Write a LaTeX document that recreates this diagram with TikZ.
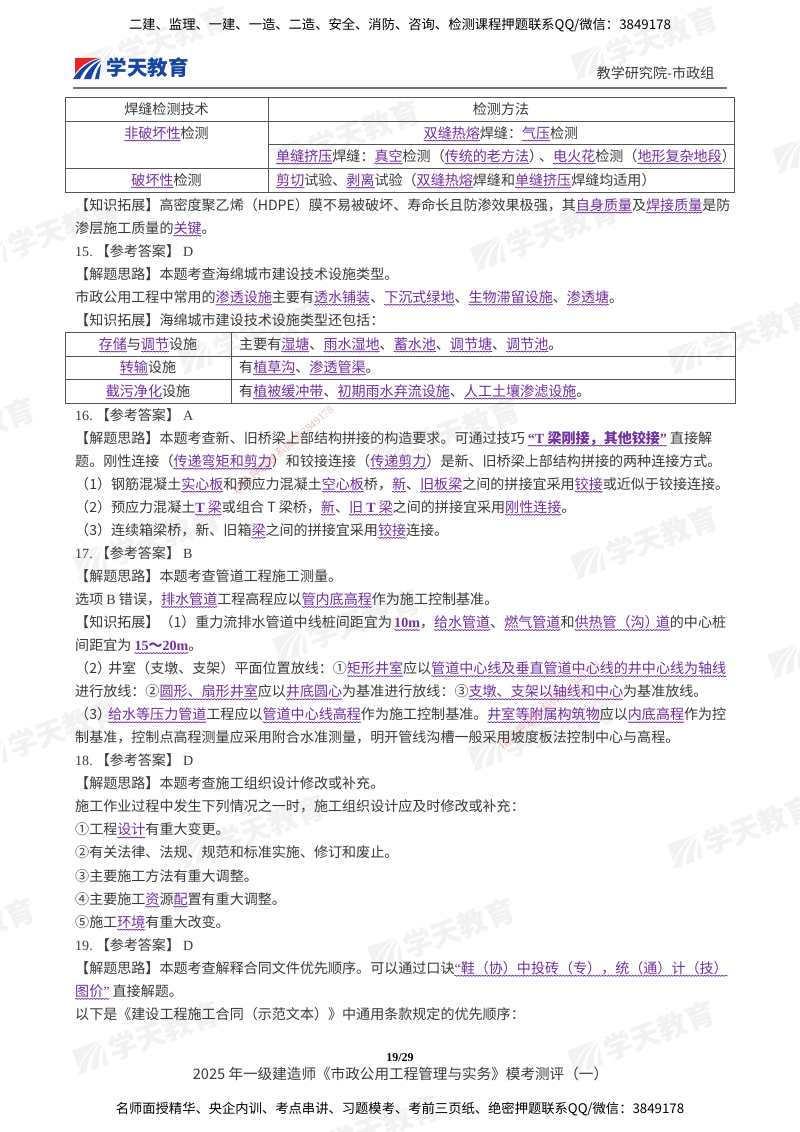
\documentclass[tikz,border=0pt]{standalone}
\usepackage{fontspec}
\usetikzlibrary{positioning,decorations.pathmorphing}
\setmainfont{Noto Sans CJK SC}
\newfontfamily\latfont{Liberation Serif}
\definecolor{bodyink}{HTML}{3A3A3A}
\definecolor{linkpurple}{HTML}{7030A0}
\definecolor{logoblue}{HTML}{17469E}
\definecolor{logored}{HTML}{E8262A}
\definecolor{markgray}{HTML}{F2F2F2}
\definecolor{tableline}{HTML}{555555}
\definecolor{stamppink}{HTML}{F3BFC0}
\newsavebox{\hlbox}
\newlength{\hlwd}
\newcommand{\hl}[1]{\sbox{\hlbox}{\textcolor{linkpurple}{#1}}\setlength{\hlwd}{\wd\hlbox}\rlap{\usebox{\hlbox}}\tikz[baseline=0pt]{\path[use as bounding box] (0pt,0pt) rectangle (\hlwd,0pt); \draw[linkpurple, line width=0.75pt, decorate, decoration={snake, amplitude=0.45pt, segment length=3pt}] (0pt,-2.6pt) -- (\hlwd,-2.6pt);}}
\newcommand{\lat}[1]{{\latfont #1}}
\newcommand{\anshead}[2]{\lat{#1}\hspace{3pt}【参考答案】\hspace{3pt}\lat{#2}}
\newcommand{\bodyfont}{\fontsize{14.05}{16}\selectfont}
\newcommand{\swoosh}[2]{
\fill[#1] (0,0) -- (24,0) .. controls (12,3) and (5,9) .. (0,16) -- cycle;
\fill[#2] (-2,21) .. controls (4,11) and (14,3) .. (26,0.5) .. controls (15,6) and (8,13) .. (5,21) -- cycle;
\fill[#2] (9,21) .. controls (12,13) and (18,6) .. (26,2.5) .. controls (21,8) and (18,14) .. (16,21) -- cycle;
\fill[#2] (20,21) .. controls (21,15) and (23,10) .. (26,6) -- (24,21) -- cycle;
}
\tikzset{
bodyline/.style={anchor=west, inner sep=0pt, text height=11pt, text depth=3pt, font=\bodyfont, text=bodyink},
nextline/.style={bodyline, below=23.05pt of #1.west, anchor=west},
tablecell/.style={inner sep=0pt, text height=11pt, text depth=3pt, font=\bodyfont, text=bodyink},
tablerule/.style={draw=tableline, line width=0.9pt},
headline/.style={inner sep=0pt, font=\fontsize{13.3}{15}\selectfont, text=black},
wmtext/.style={inner sep=0pt, transform shape, font=\fontsize{29}{30}\selectfont\bfseries, text=markgray},
stamp/.style={inner sep=0pt, font=\fontsize{11.2}{12}\selectfont, text=stamppink, rotate=41},
}

\begin{document}
\begin{tikzpicture}[x=1pt, y=-1pt]
\useasboundingbox (0,0) rectangle (800,1132);
\fill[white] (0,0) rectangle (800,1132);

\foreach \wx/\wy [count=\wi] in {160/41, 648/41, 350/135, 850/135, 50/233, 548/233, 255/336, 745/336, -35/433, 450/433, 150/541, 648/541, 350/624, 845/640, 50/733, 545/733, 255/830, 745/830, -35/933, 445/933, 150/1036, 645/1036, 370/1130}
{
\begin{scope}[shift={(\wx,\wy)}, rotate=20]
\begin{scope}[shift={(-78,-13)}, scale=1.2]
\swoosh{markgray}{markgray}
\end{scope}
\node[wmtext] (wm\wi) at (15,0) {学天教育};
\end{scope}
}
\node[stamp] (stampa) at (283,450) {精品押题联系微信\lat{3849178}};
\node[stamp] (stampb) at (549,705) {精品押题联系微信\lat{3849178}};

\node[headline] (top) at (400,25) {二建、监理、一建、一造、二造、安全、消防、咨询、检测课程押题联系QQ/微信：3849178};
\begin{scope}[shift={(75,58)}]
\swoosh{logored}{logoblue}
\end{scope}
\node[inner sep=0pt, font=\fontsize{20.5}{22}\selectfont\bfseries, text=logoblue] (brand) at (147.5,68) {学天教育};
\node[inner sep=0pt, font=\fontsize{14.1}{15}\selectfont, text=bodyink] (group) at (655.5,73) {教学研究院-市政组};
\coordinate (rulea) at (73,88);
\coordinate (ruleb) at (727,88);
\draw[draw=black!55, line width=1.2pt] (rulea) -- (ruleb);

\draw[tablerule] (65,97) rectangle (734,192);
\draw[tablerule] (268,97) -- (268,192);
\draw[tablerule] (65,121) -- (734,121);
\draw[tablerule] (268,144) -- (734,144);
\draw[tablerule] (65,168) -- (734,168);
\node[tablecell] (ha) at (166.5,110) {焊缝检测技术};
\node[tablecell] (hb) at (501,110) {检测方法};
\node[tablecell] (ra) at (166.5,134) {\hl{非破坏性}检测};
\node[tablecell] (rb) at (501,134) {\hl{双缝热熔}焊缝：\hl{气压}检测};
\node[tablecell, anchor=west] (rc) at (276,157) {\hl{单缝挤压}焊缝：\hl{真空}检测（\hl{传统的老方法}）\hspace{-4pt}、\hl{电火花}检测（\hl{地形复杂地段}）};
\node[tablecell] (rd) at (166.5,181) {\hl{破坏性}检测};
\node[tablecell, anchor=west] (re) at (276,181) {\hl{剪切}试验、\hl{剥离}试验（\hl{双缝热熔}焊缝和\hl{单缝挤压}焊缝均适用）};

\node[bodyline] (la) at (75,206) {【知识拓展】高密度聚乙烯（HDPE）膜不易被破坏、寿命长且防渗效果极强，其\hl{自身质量}及\hl{焊接质量}是防};
\node[nextline=la] (lb) {渗层施工质量的\hl{关键}。};
\node[nextline=lb] (lc) {\anshead{15.}{D}};
\node[nextline=lc] (ld) {【解题思路】本题考查海绵城市建设技术设施类型。};
\node[nextline=ld] (le) {市政公用工程中常用的\hl{渗透设施}主要有\hl{透水铺装}、\hl{下沉式绿地}、\hl{生物滞留设施}、\hl{渗透塘}。};
\node[nextline=le] (lf) {【知识拓展】海绵城市建设技术设施类型还包括：};

\draw[tablerule] (65,332) rectangle (735,403);
\draw[tablerule] (231,332) -- (231,403);
\draw[tablerule] (65,356) -- (735,356);
\draw[tablerule] (65,379) -- (735,379);
\node[tablecell] (sa) at (148,345) {\hl{存储}与\hl{调节}设施};
\node[tablecell, anchor=west] (sb) at (239,345) {主要有\hl{湿塘}、\hl{雨水湿地}、\hl{蓄水池}、\hl{调节塘}、\hl{调节池}。};
\node[tablecell] (sc) at (148,368) {\hl{转输}设施};
\node[tablecell, anchor=west] (sd) at (239,368) {有\hl{植草沟}、\hl{渗透管渠}。};
\node[tablecell] (se) at (148,392) {\hl{截污净化}设施};
\node[tablecell, anchor=west] (sf) at (239,392) {有\hl{植被缓冲带}、\hl{初期雨水弃流设施}、\hl{人工土壤渗滤设施}。};

\node[bodyline] (ma) at (75,416) {\anshead{16.}{A}};
\node[nextline=ma] (mb) {【解题思路】本题考查新、旧桥梁上部结构拼接的构造要求。可通过技巧 \textbf{\hl{\lat{“T} 梁刚接，其他铰接\lat{”}}} 直接解};
\node[nextline=mb] (mc) {题。刚性连接（\hl{传递弯矩和剪力}）和铰接连接（\hl{传递剪力}）是新、旧桥梁上部结构拼接的两种连接方式。};
\node[nextline=mc] (md) {（1）钢筋混凝土\hl{实心板}和预应力混凝土\hl{空心板}桥，\hl{新}、\hl{旧板梁}之间的拼接宜采用\hl{铰接}或近似于铰接连接。};
\node[nextline=md] (me) {（2）预应力混凝土\hl{\textbf{\lat{T}} 梁}或组合 T 梁桥，\hl{新}、\hl{旧 \textbf{\lat{T}} 梁}之间的拼接宜采用\hl{刚性连接}。};
\node[nextline=me] (mf) {（3）连续箱梁桥，新、旧箱\hl{梁}之间的拼接宜采用\hl{铰接}连接。};
\node[nextline=mf] (mg) {\anshead{17.}{B}};
\node[nextline=mg] (mh) {【解题思路】本题考查管道工程施工测量。};
\node[nextline=mh] (mi) {选项 \lat{B} 错误，\hl{排水管道}工程高程应以\hl{管内底高程}作为施工控制基准。};
\node[nextline=mi] (mj) {【知识拓展】（1）重力流排水管道中线桩间距宜为\hspace{-1pt} \textbf{\hl{\lat{10m}}}，\hl{给水管道}、\hl{燃气管道}和\hl{供热管（沟）\hspace{-3pt}道}的中心桩};
\node[nextline=mj] (mk) {间距宜为 \textbf{\hl{\lat{15}～\lat{20m}}}。};
\node[nextline=mk] (ml) {（2）\hspace{-3pt}井室（支墩、支架）平面位置放线：①\hl{矩形井室}应以\hl{管道中心线及垂直管道中心线的井中心线为轴线}};
\node[nextline=ml] (mm) {进行放线：②\hl{圆形、扇形井室}应以\hl{井底圆心}为基准进行放线：③\hl{支墩、支架以轴线和中心}为基准放线。};
\node[nextline=mm] (mn) {（3）\hspace{-3pt}\hl{给水等压力管道}工程应以\hl{管道中心线高程}作为施工控制基准。\hl{井室等附属构筑物}应以\hl{内底高程}作为控};
\node[nextline=mn] (mo) {制基准，控制点高程测量应采用附合水准测量，明开管线沟槽一般采用坡度板法控制中心与高程。};
\node[nextline=mo] (mp) {\anshead{18.}{D}};
\node[nextline=mp] (mq) {【解题思路】本题考查施工组织设计修改或补充。};
\node[nextline=mq] (mr) {施工作业过程中发生下列情况之一时，施工组织设计应及时修改或补充：};
\node[nextline=mr] (ms) {①工程\hl{设计}有重大变更。};
\node[nextline=ms] (mt) {②有关法律、法规、规范和标准实施、修订和废止。};
\node[nextline=mt] (mu) {③主要施工方法有重大调整。};
\node[nextline=mu] (mv) {④主要施工\hl{资}源\hl{配}置有重大调整。};
\node[nextline=mv] (mw) {⑤施工\hl{环境}有重大改变。};
\node[nextline=mw] (mx) {\anshead{19.}{D}};
\node[nextline=mx] (my) {【解题思路】本题考查解释合同文件优先顺序。可以通过口诀\hl{\lat{“}鞋（协）中投砖（专），统（通）计（技）}};
\node[nextline=my] (mz) {\hl{图价\lat{”}} 直接解题。};
\node[nextline=mz] (na) {以下是《建设工程施工合同（示范文本）》中通用条款规定的优先顺序：};

\node[inner sep=0pt, font=\fontsize{12}{13}\selectfont\latfont\bfseries, text=black] (pageno) at (400,1058) {19/29};
\node[inner sep=0pt, font=\fontsize{14.6}{16}\selectfont, text=bodyink] (exam) at (400.5,1074) {2025 年一级建造师《市政公用工程管理与实务》模考测评（一）};
\node[headline] (bottom) at (400,1109) {名师面授精华、央企内训、考点串讲、习题模考、考前三页纸、绝密押题联系QQ/微信：3849178};
\end{tikzpicture}
\end{document}
